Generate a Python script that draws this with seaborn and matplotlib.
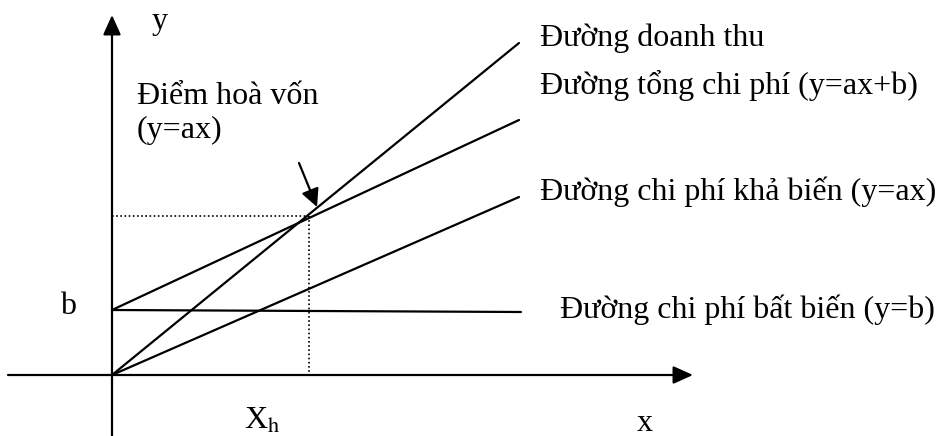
import matplotlib
matplotlib.use("Agg")
import matplotlib.pyplot as plt
import seaborn as sns
import pandas as pd

# ---- data (schematic units, origin at 0,0) ----
x_pts = [0, 407]
revenue = [0, 332]          # Đường doanh thu
total_cost = [65, 255]      # Đường tổng chi phí (y=ax+b)
variable_cost = [0, 178]    # Đường chi phí khả biến (y=ax)
fixed_x = [0, 409]
fixed_cost = [65, 63]       # Đường chi phí bất biến (y=b)
breakeven_x = 197
breakeven_y = 159

labels = ["Đường doanh thu", "Đường tổng chi phí (y=ax+b)",
          "Đường chi phí khả biến (y=ax)", "Đường chi phí bất biến (y=b)"]

sns.set_theme(style="white")
plt.rcParams["font.family"] = ["Liberation Serif", "DejaVu Serif"]
plt.rcParams["mathtext.fontset"] = "stix"
plt.rcParams["text.color"] = "black"

df = pd.concat([
    pd.DataFrame({"x": x_pts, "y": revenue, "line": labels[0]}),
    pd.DataFrame({"x": x_pts, "y": total_cost, "line": labels[1]}),
    pd.DataFrame({"x": x_pts, "y": variable_cost, "line": labels[2]}),
    pd.DataFrame({"x": fixed_x, "y": fixed_cost, "line": labels[3]}),
])

fig = plt.figure(figsize=(9.44, 4.36), dpi=100)
ax = fig.add_axes([0, 0, 1, 1])
ax.set_xlim(-112, 832)
ax.set_ylim(-61, 375)
ax.axis("off")

sns.lineplot(data=df, x="x", y="y", hue="line", palette=["black"] * 4,
             linewidth=1.6, legend=False, ax=ax, sort=False)

# dotted guides to break-even point
sns.lineplot(x=[0, breakeven_x], y=[breakeven_y, breakeven_y], color="black",
             linestyle=(0, (1, 1.5)), linewidth=1.2, ax=ax)
sns.lineplot(x=[breakeven_x, breakeven_x], y=[breakeven_y, 0], color="black",
             linestyle=(0, (1, 1.5)), linewidth=1.2, ax=ax, sort=False,
             estimator=None)

# axes arrows
arrow_kw = dict(arrowstyle="-|>,head_length=1.0,head_width=0.45", color="black",
                lw=1.6, shrinkA=0, shrinkB=0)
ax.annotate("", xy=(581, 0), xytext=(-104, 0), arrowprops=arrow_kw)
ax.annotate("", xy=(0, 360), xytext=(0, -61), arrowprops=arrow_kw)
# break-even arrow
ax.annotate("", xy=(205, 168), xytext=(187, 212),
            arrowprops=dict(arrowstyle="-|>,head_length=0.9,head_width=0.45",
                            color="black", lw=1.6, shrinkA=0, shrinkB=0))

fs = 23
ax.text(48, 353, "y", fontsize=fs, ha="center", va="center")
ax.text(533, -48, "x", fontsize=fs, ha="center", va="center")
ax.text(-44, 69, "b", fontsize=fs, ha="center", va="center")
ax.text(150, -46, r"X$_{\mathrm{h}}$", fontsize=fs, ha="center", va="center")
ax.text(25, 278, "Điểm hoà vốn", fontsize=fs, ha="left", va="center")
ax.text(25, 245, "(y=ax)", fontsize=fs, ha="left", va="center")

ax.text(428, 337, labels[0], fontsize=fs, ha="left", va="center")
ax.text(428, 290, labels[1], fontsize=fs, ha="left", va="center")
ax.text(428, 183, labels[2], fontsize=fs, ha="left", va="center")
ax.text(448, 65, labels[3], fontsize=fs, ha="left", va="center")

fig.savefig("out.png", dpi=100, facecolor="white")
